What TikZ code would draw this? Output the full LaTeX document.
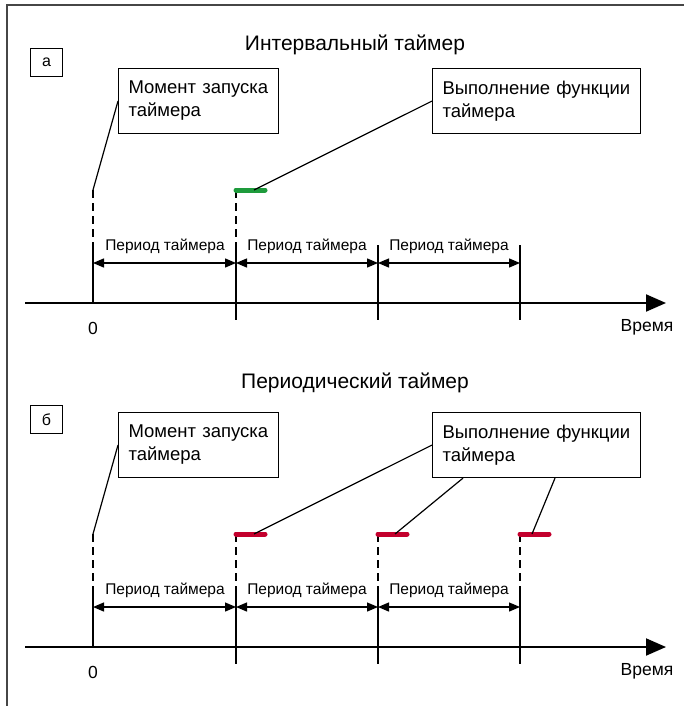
\documentclass[tikz,border=0pt]{standalone}
\usepackage{fontspec}
\setmainfont{Liberation Sans}
\usetikzlibrary{arrows.meta}
\definecolor{barGreen}{RGB}{30,155,60}
\definecolor{barRed}{RGB}{195,0,45}
\definecolor{frameGray}{RGB}{70,70,70}
\newcommand\tmpanel[2]{%
\begin{scope}[yshift=-#2pt]
  \coordinate (ax0#1) at (25,303);
  \coordinate (ax1#1) at (666,303);
  \draw[axisline] (ax0#1) -- (ax1#1);
  \coordinate (t0top#1) at (93,190);
  \coordinate (t0mid#1) at (93,245);
  \coordinate (t0bot#1) at (93,303);
  \coordinate (t1top#1) at (236,190);
  \coordinate (t1mid#1) at (236,245);
  \coordinate (t1bot#1) at (236,320);
  \coordinate (t2top#1) at (378,190);
  \coordinate (t2mid#1) at (378,245);
  \coordinate (t2bot#1) at (378,320);
  \coordinate (t3top#1) at (520,190);
  \coordinate (t3mid#1) at (520,245);
  \coordinate (t3bot#1) at (520,320);
  \draw[dashline] (t0top#1) -- (t0mid#1);
  \draw[tickline] (t0mid#1) -- (t0bot#1);
  \draw[dashline] (t1top#1) -- (t1mid#1);
  \draw[tickline] (t1mid#1) -- (t1bot#1);
  \draw[tickline] (t2mid#1) -- (t2bot#1);
  \draw[tickline] (t3mid#1) -- (t3bot#1);
  \coordinate (d0#1) at (93,263);
  \coordinate (d1#1) at (236,263);
  \coordinate (d2#1) at (378,263);
  \coordinate (d3#1) at (520,263);
  \draw[dimline] (d0#1) -- (d1#1);
  \draw[dimline] (d1#1) -- (d2#1);
  \draw[dimline] (d2#1) -- (d3#1);
  \node[lbl] (p1#1) at (165,246) {Период таймера};
  \node[lbl] (p2#1) at (307,246) {Период таймера};
  \node[lbl] (p3#1) at (449,246) {Период таймера};
  \node[axlbl] (zero#1) at (93,328) {0};
  \node[axlbl] (time#1) at (647,327) {Время};
  \node[box, minimum width=160pt, minimum height=65pt, text width=140pt] (m#1) at (118,68) {Момент запуска\\таймера};
  \node[box, minimum width=208pt, minimum height=65pt, text width=188pt] (v#1) at (432,68) {Выполнение функции\\таймера};
  \draw[conn] (m#1.west) -- (t0top#1);
\end{scope}}
\begin{document}
\begin{tikzpicture}[x=1pt,y=-1pt,
  axisline/.style={line width=2pt, -{Triangle[length=20pt,width=17pt]}},
  tickline/.style={line width=1.5pt},
  dashline/.style={line width=1.3pt, dash pattern=on 8pt off 5pt},
  dimline/.style={line width=1.3pt, {Triangle[length=11pt,width=9pt]}-{Triangle[length=11pt,width=9pt]}},
  conn/.style={line width=1.2pt},
  lbl/.style={font=\fontsize{15.5}{18}\selectfont, inner sep=0pt},
  axlbl/.style={font=\fontsize{17.5}{20}\selectfont, inner sep=0pt},
  ttl/.style={font=\fontsize{21}{25}\selectfont, inner sep=0pt},
  box/.style={draw, line width=1.1pt, rectangle, anchor=north west, align=left, inner xsep=10pt, inner ysep=0pt, font=\fontsize{18.5}{23}\selectfont},
  letter/.style={draw, line width=1.1pt, rectangle, anchor=north west, minimum width=32pt, minimum height=28pt, inner sep=0pt, font=\fontsize{16}{18}\selectfont},
  barA/.style={line width=5pt, line cap=round, draw=barGreen},
  barB/.style={line width=5pt, line cap=round, draw=barRed}]
\useasboundingbox (0,0) rectangle (683,706);
\coordinate (fr0) at (7,708);
\coordinate (fr1) at (7,5);
\coordinate (fr2) at (685,5);
\draw[line width=2pt, draw=frameGray] (fr0) -- (fr1) -- (fr2);
% panel a
\node[ttl] (titleA) at (355,45) {Интервальный таймер};
\node[letter] (la) at (30,48) {а};
\tmpanel{A}{0}
\coordinate (gb0) at (236,190);
\coordinate (gb1) at (265,190);
\coordinate (gbt) at (254,190);
\draw[barA] (gb0) -- (gb1);
\draw[conn] (vA.west) -- (gbt);
% panel b
\node[ttl] (titleB) at (355,383) {Периодический таймер};
\node[letter] (lb) at (30,405) {б};
\tmpanel{B}{344}
\coordinate (rt2) at (378,534);
\coordinate (rm2) at (378,589);
\coordinate (rt3) at (520,534);
\coordinate (rm3) at (520,589);
\draw[dashline] (rt2) -- (rm2);
\draw[dashline] (rt3) -- (rm3);
\coordinate (r1a) at (236,534);
\coordinate (r1b) at (265,534);
\coordinate (r1t) at (254,534);
\coordinate (r2a) at (378,534);
\coordinate (r2b) at (407,534);
\coordinate (r2t) at (395,534);
\coordinate (r3a) at (520,534);
\coordinate (r3b) at (549,534);
\coordinate (r3t) at (532,534);
\draw[barB] (r1a) -- (r1b);
\draw[barB] (r2a) -- (r2b);
\draw[barB] (r3a) -- (r3b);
\draw[conn] (vB.west) -- (r1t);
\draw[conn] ([xshift=31pt]vB.south west) -- (r2t);
\draw[conn] ([xshift=123pt]vB.south west) -- (r3t);
\end{tikzpicture}
\end{document}
